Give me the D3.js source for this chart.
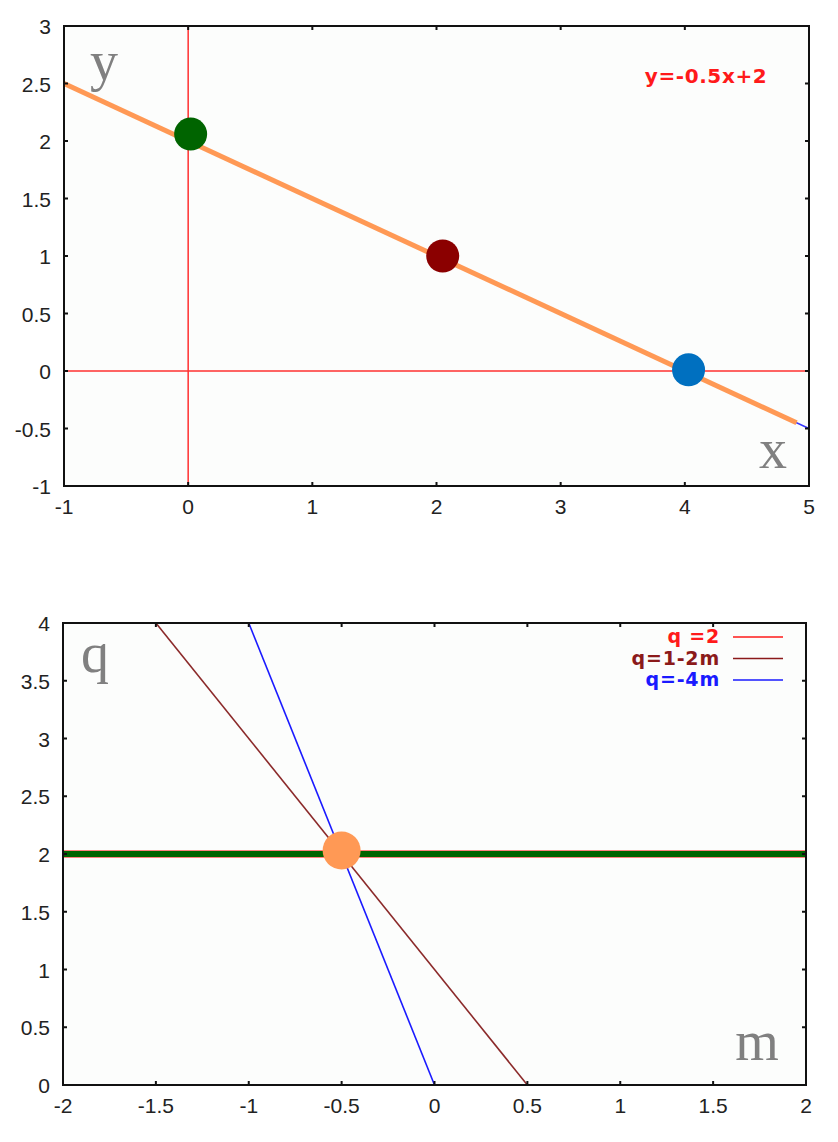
<!DOCTYPE html>
<html><head><meta charset="utf-8">
<script src="https://cdn.jsdelivr.net/npm/d3@7"></script>
<style>body{margin:0;background:#fff}svg{display:block}</style>
</head><body>
<script>
// ---- data: top chart ----
const topXDomain = [-1, 5];
const topYDomain = [-1, 3];
const topXTicks = [-1, 0, 1, 2, 3, 4, 5];
const topYTicks = [-1, -0.5, 0, 0.5, 1, 1.5, 2, 2.5, 3];
const topLineBlue = [[-1, 2.5], [5, -0.5]];
const topLineOrange = [[-1, 2.5], [4.9, -0.45]];
const topPoints = [
  {x: 0.02, y: 2.06, c: "#006400"},
  {x: 2.05, y: 1.0, c: "#8b0000"},
  {x: 4.03, y: 0.01, c: "#0070c0"}
];
const topLegend = "y=-0.5x+2";
// ---- data: bottom chart ----
const botXDomain = [-2, 2];
const botYDomain = [0, 4];
const botXTicks = [-2, -1.5, -1, -0.5, 0, 0.5, 1, 1.5, 2];
const botYTicks = [0, 0.5, 1, 1.5, 2, 2.5, 3, 3.5, 4];
const lineQ2 = [[-2, 2], [2, 2]];
const lineQ12m = [[-1.5, 4], [0.5, 0]];
const lineQ4m = [[-1, 4], [0, 0]];
const botPoint = {x: -0.5, y: 2.03, c: "#ff9955"};
const botLegend = [
  {label: "q =2", c: "#ff1a1a"},
  {label: "q=1-2m", c: "#8b1a1a"},
  {label: "q=-4m", c: "#1a1aff"}
];

const W = 838, H = 1142;
const svg = d3.select("body").append("svg").attr("width", W).attr("height", H);

function frame(g, x, y, xt, yt) {
  const [x0, x1] = x.range(), [y0, y1] = y.range();
  g.append("rect").attr("x", x0).attr("y", y1).attr("width", x1 - x0).attr("height", y0 - y1)
    .attr("fill", "#fcfdfc");
  return () => {
    g.append("rect").attr("x", x0).attr("y", y1).attr("width", x1 - x0).attr("height", y0 - y1)
      .attr("fill", "none").attr("stroke", "#111").attr("stroke-width", 2);
    const tl = 4;
    xt.forEach(t => {
      g.append("line").attr("x1", x(t)).attr("x2", x(t)).attr("y1", y0).attr("y2", y0 - tl).attr("stroke", "#111").attr("stroke-width", 2);
      g.append("line").attr("x1", x(t)).attr("x2", x(t)).attr("y1", y1).attr("y2", y1 + tl).attr("stroke", "#111").attr("stroke-width", 2);
      g.append("text").attr("x", x(t)).attr("y", y0 + 28).attr("text-anchor", "middle")
        .attr("font-family", "Liberation Sans, Arial, sans-serif").attr("font-size", 21).attr("fill", "#222")
        .text(d3.format("")(t).replace("−", "-"));
    });
    yt.forEach(t => {
      g.append("line").attr("x1", x0).attr("x2", x0 + tl).attr("y1", y(t)).attr("y2", y(t)).attr("stroke", "#111").attr("stroke-width", 2);
      g.append("line").attr("x1", x1).attr("x2", x1 - tl).attr("y1", y(t)).attr("y2", y(t)).attr("stroke", "#111").attr("stroke-width", 2);
      g.append("text").attr("x", x0 - 13).attr("y", y(t) + 8).attr("text-anchor", "end")
        .attr("font-family", "Liberation Sans, Arial, sans-serif").attr("font-size", 21).attr("fill", "#222")
        .text(d3.format("")(t).replace("−", "-"));
    });
  };
}

// ---- top chart ----
{
  const x = d3.scaleLinear().domain(topXDomain).range([64, 809]);
  const y = d3.scaleLinear().domain(topYDomain).range([486, 26]);
  const g = svg.append("g");
  const finish = frame(g, x, y, topXTicks, topYTicks);
  const line = d3.line().x(d => x(d[0])).y(d => y(d[1]));
  g.append("line").attr("x1", x(0)).attr("x2", x(0)).attr("y1", y(3)).attr("y2", y(-1)).attr("stroke", "#ff3030").attr("stroke-width", 1.5);
  g.append("line").attr("x1", x(-1)).attr("x2", x(5)).attr("y1", y(0)).attr("y2", y(0)).attr("stroke", "#ff3030").attr("stroke-width", 1.5);
  g.append("path").attr("d", line(topLineBlue)).attr("stroke", "#3333ff").attr("stroke-width", 1.5).attr("fill", "none");
  g.append("path").attr("d", line(topLineOrange)).attr("stroke", "#ff9955").attr("stroke-width", 5).attr("fill", "none");
  g.selectAll("circle.p").data(topPoints).join("circle")
    .attr("cx", d => x(d.x)).attr("cy", d => y(d.y)).attr("r", 16.5).attr("fill", d => d.c);
  g.append("text").attr("x", 706).attr("y", 83).attr("text-anchor", "middle")
    .attr("font-family", "DejaVu Sans, sans-serif").attr("font-weight", "bold").attr("font-size", 20)
    .attr("letter-spacing", 0.6).attr("fill", "#ff1a1a")
    .text(topLegend);
  g.append("text").attr("x", 104).attr("y", 80).attr("text-anchor", "middle")
    .attr("font-family", "Liberation Serif, serif").attr("font-size", 56).attr("fill", "#808080").text("y");
  g.append("text").attr("x", 773).attr("y", 468).attr("text-anchor", "middle")
    .attr("font-family", "Liberation Serif, serif").attr("font-size", 56).attr("fill", "#808080").text("x");
  finish();
}

// ---- bottom chart ----
{
  const x = d3.scaleLinear().domain(botXDomain).range([63, 806]);
  const y = d3.scaleLinear().domain(botYDomain).range([1085, 623]);
  const g = svg.append("g");
  const finish = frame(g, x, y, botXTicks, botYTicks);
  const line = d3.line().x(d => x(d[0])).y(d => y(d[1]));
  g.append("path").attr("d", line(lineQ2)).attr("stroke", "#ff8080").attr("stroke-width", 8).attr("fill", "none");
  g.append("path").attr("d", line(lineQ2)).attr("stroke", "#006400").attr("stroke-width", 6).attr("fill", "none");
  g.append("path").attr("d", line(lineQ12m)).attr("stroke", "#8b2a2a").attr("stroke-width", 1.6).attr("fill", "none");
  g.append("path").attr("d", line(lineQ4m)).attr("stroke", "#1a1aff").attr("stroke-width", 1.6).attr("fill", "none");
  g.append("circle").attr("cx", x(botPoint.x)).attr("cy", y(botPoint.y)).attr("r", 19).attr("fill", botPoint.c);
  botLegend.forEach((d, i) => {
    const yy = 637 + i * 21.5;
    g.append("text").attr("x", 720).attr("y", yy + 6).attr("text-anchor", "end")
      .attr("font-family", "DejaVu Sans, sans-serif").attr("font-weight", "bold").attr("font-size", 19)
      .attr("letter-spacing", 0.8).attr("fill", d.c)
      .text(d.label);
    g.append("line").attr("x1", 733).attr("x2", 783).attr("y1", yy).attr("y2", yy).attr("stroke", d.c).attr("stroke-width", 1.6);
  });
  g.append("text").attr("x", 95).attr("y", 672).attr("text-anchor", "middle")
    .attr("font-family", "Liberation Serif, serif").attr("font-size", 56).attr("fill", "#808080").text("q");
  g.append("text").attr("x", 757).attr("y", 1060).attr("text-anchor", "middle")
    .attr("font-family", "Liberation Serif, serif").attr("font-size", 56).attr("fill", "#808080").text("m");
  finish();
}
</script>
</body></html>
